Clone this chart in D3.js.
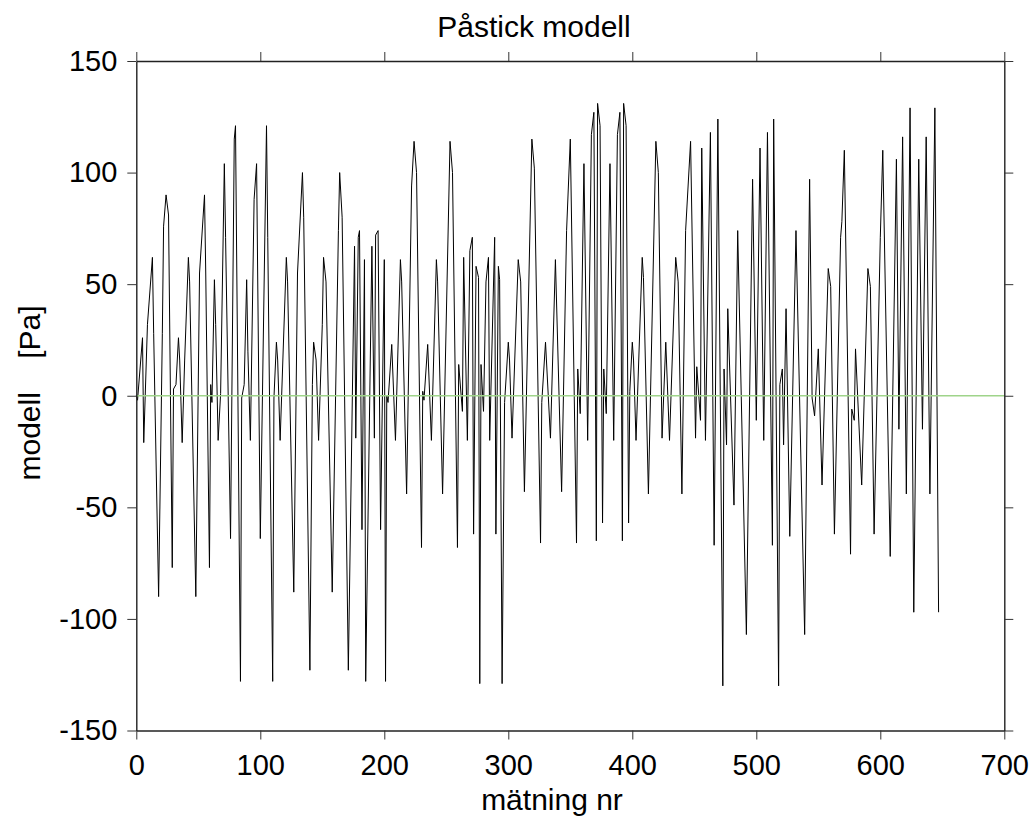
<!DOCTYPE html>
<html>
<head>
<meta charset="utf-8">
<script src="https://cdn.jsdelivr.net/npm/d3@7"></script>
<style>
  body { margin: 0; background: #fff; }
  svg text { font-family: "Liberation Sans", Arial, sans-serif; fill: #000; }
</style>
</head>
<body>
<script>
'use strict';

const sampleNr = [
  0, 1, 5, 6, 9, 13, 14, 18, 21, 22, 24, 26, 29, 30, 32, 34, 35, 37, 39, 42,
  43, 48, 51, 55, 56, 59, 60, 61, 63, 64, 66, 68, 71, 72, 76, 79, 80, 84, 85, 87,
  89, 90, 92, 95, 97, 100, 105, 106, 110, 111, 113, 114, 116,
  121, 122, 127, 130, 134, 135, 140, 142, 143, 145, 147, 150, 151, 153, 158, 163, 164,
  166, 171, 176, 177, 179, 180, 182, 184, 185, 190, 192, 193, 195, 197, 200, 201, 202,
  203, 206, 209, 213, 214, 218, 222, 224, 226, 230, 231,
  232, 235, 238, 242, 243, 247, 253, 255, 259, 260, 263, 264, 267, 269, 271, 272, 274,
  276, 277, 278, 280, 282, 284, 285, 289, 290, 292, 293, 295, 297, 300, 301, 303, 308,
  310, 313, 319, 321, 326, 327, 330, 334, 338, 343, 347, 350,
  355, 356, 358, 361, 364, 367, 369, 371, 372, 374, 376, 377, 379, 382, 385, 388, 390,
  392, 393, 395, 397, 398, 400, 401, 403, 408, 409, 413, 419, 421, 424, 427, 430, 435,
  437, 440, 443, 447, 451, 452, 455, 456, 459, 463, 466,
  469, 473, 474, 476, 477, 482, 485, 492, 497, 500, 503, 506, 509, 513, 514, 518, 519,
  521, 522, 524, 527, 532, 539, 543, 545, 547, 550, 553, 558, 560, 563, 568, 569, 571,
  576, 577, 579, 580,
  585, 590, 592, 595, 600, 602, 608, 613, 615, 618, 621, 624, 627, 631, 634, 637, 640,
  644, 647
];

// model value [Pa] at each vertex
const modelValue = [
  0, -2, 26, -21, 32, 62, 28, -90, 28, 76, 90, 81, -77, 3, 5, 26, 16, -21, 16, 62,
  51, -90, 55, 90, 55, -77, 5, -3, 52, 32, -20, 1, 104, 71, -64, 115, 121, -128, -1, 5,
  52, 20, -20, 88, 104, -64, 121, 71, -128, -1, 24, 16, -20,
  62, 51, -88, 55, 100, 80, -123, 5, 24, 16, -20, 32, 62, 51, -88, 74, 100,
  80, -123, 67, -19, 71, 74, -60, 61, -128, 67, -19, 72, 74, -60, 61, -128, 0,
  -3, 23, -20, 61, 51, -44, 94, 114, 100, -68, 2,
  -2, 23, -20, 61, 51, -44, 114, 100, -68, 14, -7, 62, -20, 65, 71, -62, 58,
  53, -129, 14, -7, 51, 62, -20, 71, -62, 58, 52, -129, -3, 24, 16, -19, 61,
  51, -43, 115, 102, -66, -3, 24, -19, 61, -43, 74, 115,
  -66, 12, -8, 104, -20, 117, 127, -65, 131, 121, -57, 12, -8, 104, -20, 117, 127,
  -65, 131, 121, -57, 2, 24, 16, -20, 62, 53, -44, 114, 100, -19, 24, -20, 62,
  51, -44, 74, 114, -19, 13, -11, 111, -20, 118, -67,
  124, -130, 12, -22, 39, -49, 74, -107, 97, -11, 111, -20, 118, -67, 124, -130, 5,
  12, -22, 39, -63, 74, -107, 97, -1, -9, 21, -40, 57, 49, -62, 71, 78, 110,
  -71, -6, -11, 21,
  -40, 57, 49, -62, 71, 110, -72, 106, -15, 116, -44, 129, -97, 106, -15, 116, -44,
  129, -97
];

// zero reference line
const refX = [0, 700];
const refY = [0, 0];

const xTicks = [0, 100, 200, 300, 400, 500, 600, 700];
const yTicks = [-150, -100, -50, 0, 50, 100, 150];

const titleText = 'Påstick modell';
const xLabelText = 'mätning nr';
const yLabelText = 'modell    [Pa]';

const width = 1036, height = 824;
const plot = { left: 136.3, right: 1004.3, top: 61, bottom: 730.5 };

const svg = d3.select('body').append('svg')
  .attr('width', width)
  .attr('height', height);

const x = d3.scaleLinear().domain([0, 700]).range([plot.left, plot.right]);
const y = d3.scaleLinear().domain([-150, 150]).range([plot.bottom, plot.top]);

const line = d3.line()
  .x((d) => x(d[0]))
  .y((d) => y(d[1]));

// data line
svg.append('path')
  .datum(sampleNr.map((s, i) => [s, modelValue[i]]))
  .attr('fill', 'none')
  .attr('stroke', '#000')
  .attr('stroke-width', 1)
  .attr('d', line);

// green zero line
svg.append('path')
  .datum(refX.map((s, i) => [s, refY[i]]))
  .attr('fill', 'none')
  .attr('stroke', '#9fd48a')
  .attr('stroke-width', 1.4)
  .attr('d', line);

// axes, ticks pointing outward on all four sides
const fmt = (d) => String(d);
const tickLen = 9;

function styleAxis(g) {
  g.selectAll('path').attr('stroke', '#222').attr('stroke-width', 1.4);
  g.selectAll('line').attr('stroke', '#333').attr('stroke-width', 1);
  g.selectAll('text')
    .style('font-size', '29px')
    .style('font-family', '"Liberation Sans", Arial, sans-serif')
    .attr('fill', '#000');
}

svg.append('g')
  .attr('transform', 'translate(0,' + plot.bottom + ')')
  .call(d3.axisBottom(x).tickValues(xTicks).tickFormat(fmt)
    .tickSize(tickLen).tickSizeOuter(0).tickPadding(15))
  .call(styleAxis);

svg.append('g')
  .attr('transform', 'translate(0,' + plot.top + ')')
  .call(d3.axisTop(x).tickValues(xTicks).tickFormat('')
    .tickSize(tickLen).tickSizeOuter(0))
  .call(styleAxis);

svg.append('g')
  .attr('transform', 'translate(' + plot.left + ',0)')
  .call(d3.axisLeft(y).tickValues(yTicks).tickFormat(fmt)
    .tickSize(tickLen).tickSizeOuter(0).tickPadding(10))
  .call(styleAxis);

svg.append('g')
  .attr('transform', 'translate(' + plot.right + ',0)')
  .call(d3.axisRight(y).tickValues(yTicks).tickFormat('')
    .tickSize(tickLen).tickSizeOuter(0))
  .call(styleAxis);

// title and axis labels
svg.append('text')
  .attr('x', 534)
  .attr('y', 37)
  .attr('text-anchor', 'middle')
  .style('font-size', '30px')
  .text(titleText);

svg.append('text')
  .attr('x', 552)
  .attr('y', 810)
  .attr('text-anchor', 'middle')
  .style('font-size', '30px')
  .text(xLabelText);

svg.append('text')
  .attr('transform', 'translate(40,393)rotate(-90)')
  .attr('text-anchor', 'middle')
  .style('font-size', '30px')
  .style('white-space', 'pre')
  .text(yLabelText);
</script>
</body>
</html>
